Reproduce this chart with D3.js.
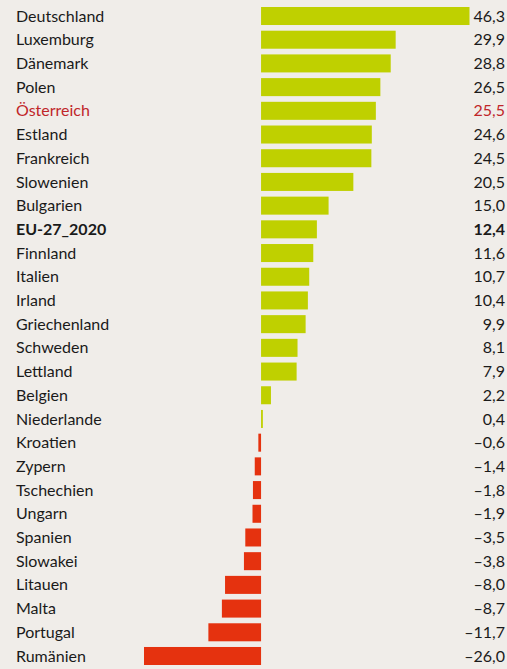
<!DOCTYPE html>
<html>
<head>
<meta charset="utf-8">
<script src="https://cdnjs.cloudflare.com/ajax/libs/d3/7.8.5/d3.min.js"></script>
<style>
  body { margin: 0; background: #f0ede9; }
  svg { display: block; }
  text { font-family: Lato, "Noto Sans", sans-serif; font-size: 16px; fill: #1a1a1a; }
</style>
</head>
<body>
<svg width="507" height="669"></svg>
<script>
var countries = ["Deutschland", "Luxemburg", "Dänemark", "Polen", "Österreich", "Estland",
    "Frankreich", "Slowenien", "Bulgarien", "EU-27_2020", "Finnland", "Italien", "Irland",
    "Griechenland", "Schweden", "Lettland", "Belgien", "Niederlande", "Kroatien", "Zypern",
    "Tschechien", "Ungarn", "Spanien", "Slowakei", "Litauen", "Malta", "Portugal", "Rumänien"];
var values = [46.3, 29.9, 28.8, 26.5, 25.5, 24.6, 24.5, 20.5, 15.0, 12.4, 11.6, 10.7, 10.4,
    9.9, 8.1, 7.9, 2.2, 0.4, -0.6, -1.4, -1.8, -1.9, -3.5, -3.8, -8.0, -8.7, -11.7, -26.0];
var highlight = "Österreich";
var average = "EU-27_2020";

var data = countries.map(function(c, i) { return { name: c, value: values[i] }; });

var svg = d3.select("svg"), width = +svg.attr("width"),
    height = +svg.attr("height");

var x = d3.scaleLinear().domain([-26, 46.3]).range([144, 469.5]);
var y = d3.scaleBand().domain(countries).range([7, 665]).paddingInner(0.24).paddingOuter(0);

function fmt(v) { return v.toFixed(1).replace(".", ",").replace("-", "\u2013"); }

var row = svg.append("g")
    .selectAll("g")
    .data(data)
    .enter()
    .append("g");

row.append("rect")
    .attr("x", function(d) { return x(Math.min(0, d.value)); })
    .attr("y", function(d) { return y(d.name); })
    .attr("width", function(d) { return Math.abs(x(d.value) - x(0)); })
    .attr("height", y.bandwidth())
    .attr("fill", function(d) { return d.value >= 0 ? "#bfd000" : "#e5320f"; });

row.append("text")
    .attr("x", 16)
    .attr("y", function(d) { return y(d.name) + y.bandwidth() / 2; })
    .attr("dy", ".35em")
    .style("font-weight", function(d) { return d.name === average ? "bold" : null; })
    .style("fill", function(d) { return d.name === highlight ? "#c0262a" : null; })
    .text(function(d) { return d.name; });

row.append("text")
    .attr("x", 505)
    .attr("y", function(d) { return y(d.name) + y.bandwidth() / 2; })
    .attr("dy", ".35em")
    .attr("text-anchor", "end")
    .style("font-weight", function(d) { return d.name === average ? "bold" : null; })
    .style("fill", function(d) { return d.name === highlight ? "#c0262a" : null; })
    .text(function(d) { return fmt(d.value); });
</script>
</body>
</html>
